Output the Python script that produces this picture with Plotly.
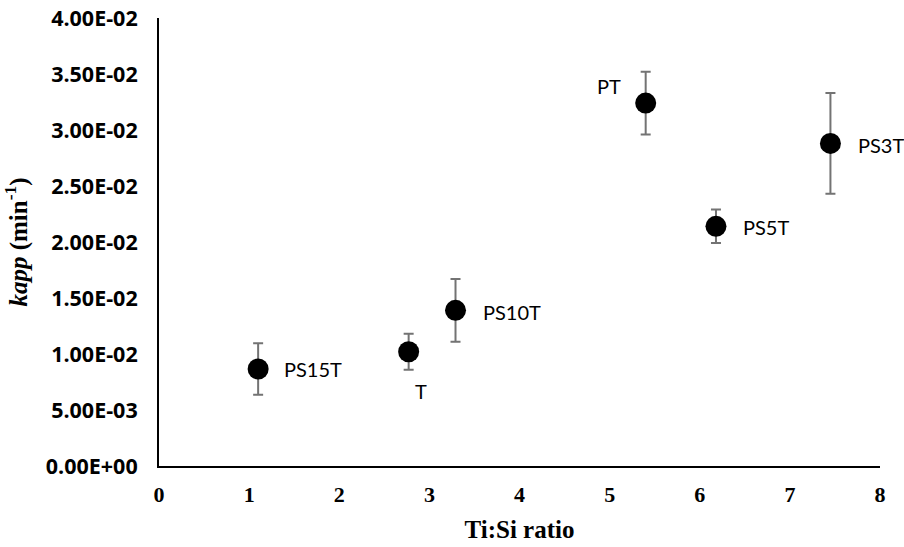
import plotly.graph_objects as go

labels = ["PS15T", "T", "PS10T", "PT", "PS5T", "PS3T"]
ratio = [1.10, 2.77, 3.29, 5.40, 6.18, 7.45]
kapp = [0.00866, 0.0102, 0.0139, 0.0324, 0.0214, 0.0288]
err = [0.0023, 0.0016, 0.0028, 0.0028, 0.0015, 0.0045]
y_ticks = [0.0, 0.005, 0.01, 0.015, 0.02, 0.025, 0.03, 0.035, 0.04]
y_ticktext = ["0.00E+00", "5.00E-03", "1.00E-02", "1.50E-02", "2.00E-02",
              "2.50E-02", "3.00E-02", "3.50E-02", "4.00E-02"]
x_ticks = [0, 1, 2, 3, 4, 5, 6, 7, 8]

# label placement style: (xanchor, yanchor, xshift, yshift)
label_pos = {
    "PS15T": ("left", "middle", 24, 0),
    "T": ("center", "middle", 12, -39),
    "PS10T": ("left", "middle", 25, -2),
    "PT": ("right", "middle", -23, 17),
    "PS5T": ("left", "middle", 25, -1),
    "PS3T": ("left", "middle", 26, -2),
}

fig = go.Figure()
fig.add_trace(go.Scatter(
    x=ratio, y=kapp, mode="markers",
    marker=dict(size=21, color="black"),
    error_y=dict(type="data", array=err, visible=True, color="#737373",
                 thickness=2, width=5),
    showlegend=False,
))

for lab, xv, yv in zip(labels, ratio, kapp):
    xa, ya, xs, ys = label_pos[lab]
    fig.add_annotation(x=xv, y=yv, xref="x", yref="y", text=lab, showarrow=False,
                       xanchor=xa, yanchor=ya, xshift=xs, yshift=ys,
                       font=dict(family="Lato", size=20, color="black"))

fig.update_layout(
    width=904, height=547,
    margin=dict(l=159, r=24, t=18, b=81),
    paper_bgcolor="white", plot_bgcolor="white",
    font=dict(family="Open Sans", size=18, color="black"),
)
fig.update_xaxes(range=[0, 8], tickmode="array", tickvals=x_ticks,
                 ticktext=["<b>%d</b>" % v for v in x_ticks],
                 showgrid=False, zeroline=False, automargin=False,
                 showline=True, linecolor="black", linewidth=2, ticks="outside",
                 ticklen=8, tickcolor="rgba(0,0,0,0)",
                 tickfont=dict(family="Liberation Serif", size=22, color="black"),
                 title_text="<b>Ti:Si ratio</b>", title_standoff=14,
                 title_font=dict(family="Liberation Serif", size=25, color="black"))
fig.update_yaxes(range=[0, 0.04], tickmode="array", tickvals=y_ticks,
                 ticktext=["<b>%s</b>" % t for t in y_ticktext],
                 showgrid=False, automargin=False,
                 zeroline=False, showline=True, linecolor="black", linewidth=2,
                 ticks="outside", ticklen=15, tickcolor="rgba(0,0,0,0)",
                 tickfont=dict(family="Open Sans", size=21.5, color="black"),
                 title_text="<b><i>kapp</i> (min<sup>-1</sup>)</b>", title_standoff=14,
                 title_font=dict(family="Liberation Serif", size=25, color="black"))

fig.write_html("out.html")
